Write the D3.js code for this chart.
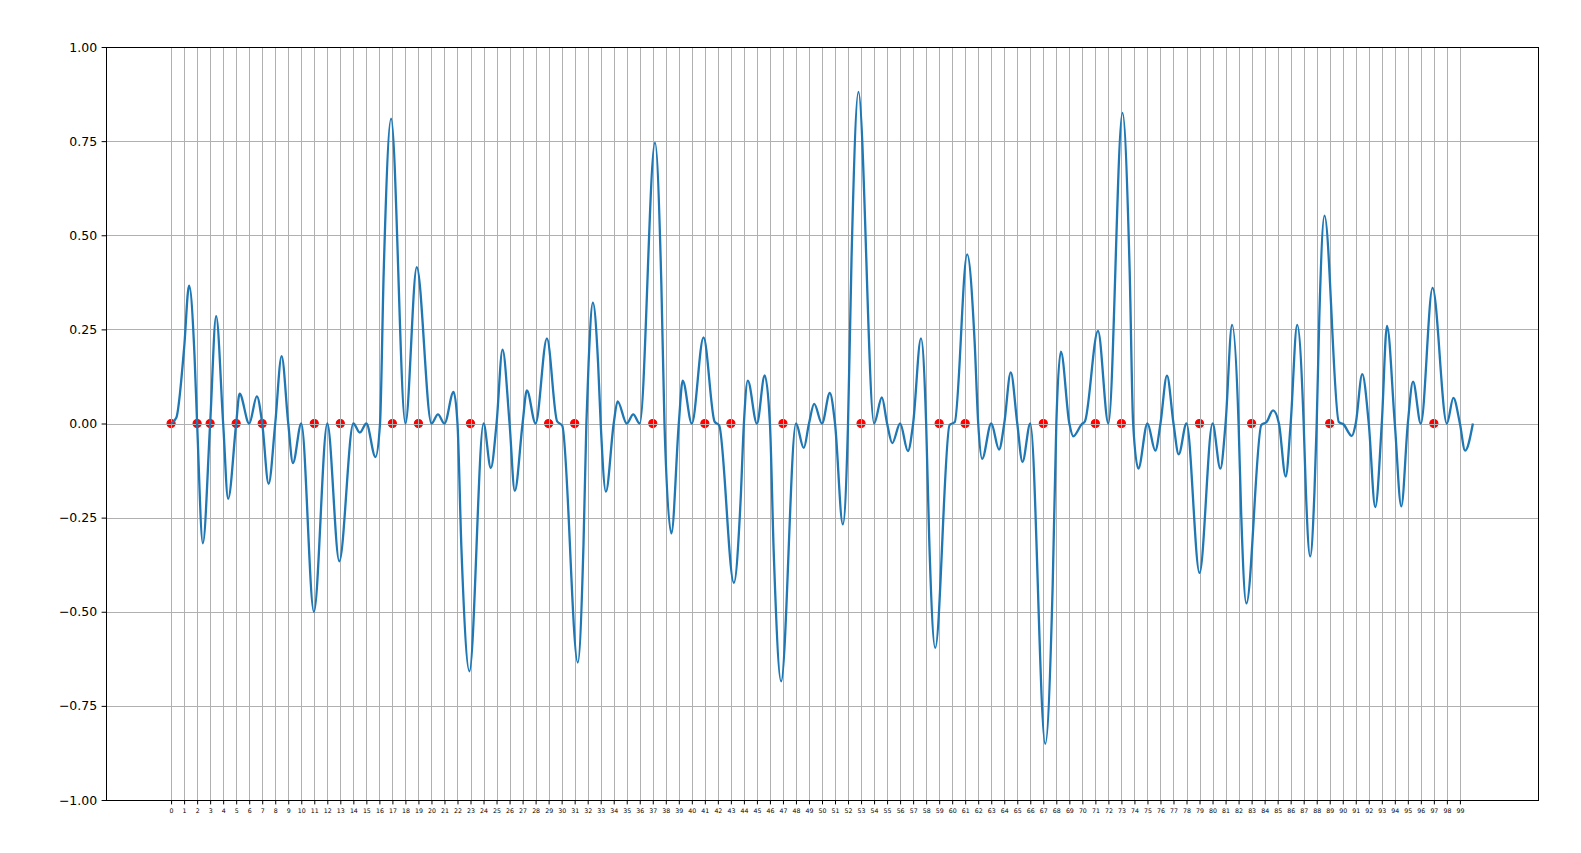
<!DOCTYPE html>
<html>
<head>
<meta charset="utf-8">
<script src="https://cdn.jsdelivr.net/npm/d3@7"></script>
<style>
  html, body { margin: 0; padding: 0; background: #ffffff; }
  svg { display: block; }
  text { font-family: "DejaVu Sans", sans-serif; fill: #000; }
</style>
</head>
<body>
<svg id="chart" width="1581" height="853"></svg>
<script>
// ---- data ----
// key points of the blue curve (extrema, shoulders, zero touches and crossings)
const curveX = [
  0, 0.4, 1.0, 1.38, 1.8, 2, 2.44, 3, 3.46, 4, 4.38, 5, 5.26, 6, 6.59, 7, 7.49, 8, 8.49, 9, 9.36, 10,
  10.97, 12, 12.92, 14, 14.5, 15, 15.7, 16.05, 16.33, 16.9, 18, 18.87, 20, 20.5, 21, 21.7, 22, 22.3, 22.92, 24,
  24.56, 25, 25.46, 26, 26.4, 27, 27.33, 28, 28.87, 29.65, 30.05, 31.24, 31.68, 31.9, 32.07, 32.4, 32.8, 33, 33.4, 34,
  34.3, 35, 35.5, 36, 37.17, 37.66, 37.9, 38.43, 39, 39.3, 40, 40.9, 41.75, 42.1, 43.23, 43.74, 44, 44.3, 45,
  45.6, 46, 46.29, 46.86, 48, 48.6, 49, 49.4, 50, 50.6, 51, 51.6, 52, 52.27, 52.8, 54, 54.6, 55, 55.4, 56,
  56.6, 57, 57.6, 58, 58.23, 58.7, 59.8, 60.2, 61.15, 61.72, 62, 62.3, 63, 63.6, 64, 64.5, 65, 65.4, 66,
  67.15, 67.72, 68, 68.35, 69, 69.3, 69.95, 70.2, 71.2, 72, 73.08, 73.63, 73.9, 74.3, 75, 75.6, 76, 76.5, 77,
  77.4, 78, 79.0, 80, 80.6, 81, 81.5, 82, 82.2, 82.6, 83.75, 84.15, 84.65, 85.1, 85.62, 86, 86.5, 87,
  87.17, 87.5, 87.83, 88, 88.2, 88.6, 89.7, 90.05, 90.7, 91, 91.5, 92, 92.5, 93, 93.4, 94, 94.5, 95, 95.4, 96,
  96.9, 98, 98.5, 99, 99.4, 100
];
const curveY = [
  0, 0.015, 0.2, 0.366, 0.18, 0, -0.318, 0, 0.285, 0, -0.200, 0, 0.079, 0, 0.072, 0, -0.160, 0, 0.179, 0, -0.105, 0,
  -0.500, 0, -0.366, 0, -0.024, 0, -0.089, 0, 0.40, 0.810, 0, 0.415, 0, 0.024, 0, 0.084, 0, -0.33, -0.658, 0,
  -0.118, 0, 0.196, 0, -0.179, 0, 0.088, 0, 0.226, 0.006, -0.006, -0.635, -0.32, 0, 0.16, 0.321, 0.16, 0, -0.181, 0,
  0.059, 0, 0.024, 0, 0.746, 0.37, 0, -0.292, 0, 0.114, 0, 0.229, 0.005, -0.005, -0.423, -0.21, 0, 0.114, 0,
  0.128, 0, -0.34, -0.685, 0, -0.065, 0, 0.052, 0, 0.081, 0, -0.268, 0, 0.44, 0.881, 0, 0.069, 0, -0.052, 0,
  -0.073, 0, 0.226, 0, -0.30, -0.596, -0.004, 0.004, 0.449, 0.22, 0, -0.094, 0, -0.069, 0, 0.136, 0, -0.102, 0,
  -0.851, -0.43, 0, 0.191, 0, -0.034, -0.002, 0.006, 0.246, 0, 0.825, 0.41, 0, -0.120, 0, -0.072, 0, 0.127, 0,
  -0.082, 0, -0.397, 0, -0.120, 0, 0.262, 0, -0.24, -0.478, -0.004, 0.004, 0.035, 0, -0.141, 0, 0.262, 0,
  -0.18, -0.353, -0.18, 0, 0.28, 0.552, 0.004, -0.002, -0.033, 0, 0.131, 0, -0.222, 0, 0.259, 0, -0.220, 0, 0.111, 0,
  0.360, 0, 0.068, 0, -0.072, 0
];
// red markers
const dotX = [0, 2, 3, 5, 7, 11, 13, 17, 19, 23, 29, 31, 37, 41, 43, 47, 53, 59, 61, 67, 71, 73, 79, 83, 89, 97];
const dotY = dotX.map(() => 0);
// tick labels
const xTicks = d3.range(0, 100);
const yTicks = [-1, -0.75, -0.5, -0.25, 0, 0.25, 0.5, 0.75, 1];
const yTickLabels = ["\u22121.00", "\u22120.75", "\u22120.50", "\u22120.25", "0.00", "0.25", "0.50", "0.75", "1.00"];

// ---- layout ----
const L = 106, R = 1538, T = 47, B = 800;
const svg = d3.select("#chart");
svg.append("rect").attr("width", 1581).attr("height", 853).attr("fill", "#fff");

const x = d3.scaleLinear().domain([-5, 105]).range([L, R]);
const y = d3.scaleLinear().domain([-1, 1]).range([B, T]);

// scatter (drawn beneath the grid, as in the reference)
svg.append("g").selectAll("circle")
  .data(dotX.map((d, i) => [d, dotY[i]]))
  .join("circle")
  .attr("cx", d => x(d[0]))
  .attr("cy", d => y(d[1]))
  .attr("r", 4)
  .attr("fill", "#ff0000")
  .attr("stroke", "#ff0000")
  .attr("stroke-width", 1.25);

// grid
const grid = svg.append("g").attr("stroke", "#b0b0b0").attr("stroke-width", 1);
grid.selectAll("line.vx").data(xTicks).join("line")
  .attr("class", "vx")
  .attr("x1", d => Math.round(x(d)) + 0.5).attr("x2", d => Math.round(x(d)) + 0.5)
  .attr("y1", T).attr("y2", B);
grid.selectAll("line.hy").data(yTicks).join("line")
  .attr("class", "hy")
  .attr("y1", d => Math.round(y(d)) + 0.5).attr("y2", d => Math.round(y(d)) + 0.5)
  .attr("x1", L).attr("x2", R);

// curve
const pts = curveX.map((d, i) => [d, curveY[i]]);
const line = d3.line().x(d => x(d[0])).y(d => y(d[1])).curve(d3.curveMonotoneX);
svg.append("path")
  .attr("d", line(pts))
  .attr("fill", "none")
  .attr("stroke", "#1f77b4")
  .attr("stroke-width", 2.3)
  .attr("stroke-linejoin", "round")
  .attr("stroke-linecap", "butt");

// axes
const xAxis = d3.axisBottom(x).tickValues(xTicks).tickSize(4.4).tickPadding(4.4).tickFormat(d3.format("d"));
const gx = svg.append("g").attr("transform", `translate(0,${B})`).call(xAxis);
gx.select(".domain").remove();
gx.selectAll("line").attr("stroke", "#000").attr("stroke-width", 1);
gx.selectAll("text").attr("font-size", "6.25px").attr("font-family", "DejaVu Sans").attr("fill", "#000");

const yAxis = d3.axisLeft(y).tickValues(yTicks).tickSize(4.4).tickPadding(4.4)
  .tickFormat((d, i) => yTickLabels[i]);
const gy = svg.append("g").attr("transform", `translate(${L},0)`).call(yAxis);
gy.select(".domain").remove();
gy.selectAll("line").attr("stroke", "#000").attr("stroke-width", 1);
gy.selectAll("text").attr("font-size", "12.5px").attr("font-family", "DejaVu Sans").attr("fill", "#000");

// spines
svg.append("rect")
  .attr("x", L + 0.5).attr("y", T + 0.5)
  .attr("width", R - L).attr("height", B - T)
  .attr("fill", "none").attr("stroke", "#000").attr("stroke-width", 1);
</script>
</body>
</html>
